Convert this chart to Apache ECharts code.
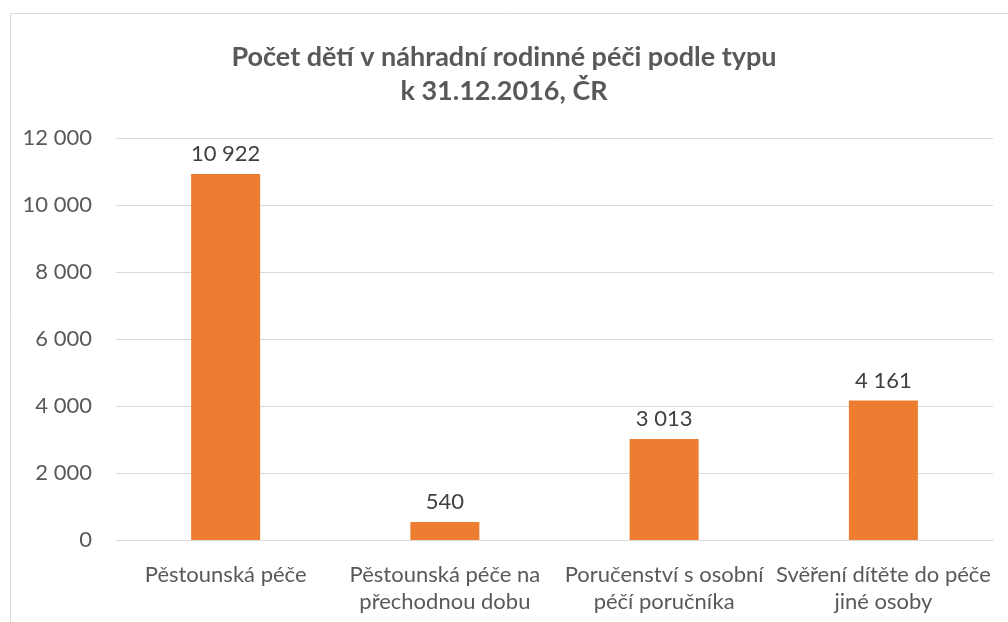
<!DOCTYPE html>
<html>
<head>
<meta charset="utf-8">
<script src="https://cdn.jsdelivr.net/npm/echarts@6/dist/echarts.min.js"></script>
<style>
  html, body { margin: 0; padding: 0; background: #ffffff; }
  #chart { width: 1008px; height: 622px; }
</style>
</head>
<body>
<div id="chart"></div>
<script>
// Počet dětí v náhradní rodinné péči podle typu, k 31.12.2016
const categories = [
  'Pěstounská péče',
  'Pěstounská péče na\npřechodnou dobu',
  'Poručenství s osobní\npéčí poručníka',
  'Svěření dítěte do péče\njiné osoby'
];
const childCounts = [10922, 540, 3013, 4161];
const titleLines = ['Počet dětí v náhradní rodinné péči podle typu', 'k 31.12.2016, ČR'];

// thousands separated by a space, e.g. 10 922
function fmt(v) {
  return String(v).replace(/\B(?=(\d{3})+(?!\d))/g, ' ');
}

const FONT = 'Lato, "Open Sans", sans-serif';
const chart = echarts.init(document.getElementById('chart'), null, { renderer: 'canvas' });

chart.setOption({
  animation: false,
  backgroundColor: '#ffffff',
  graphic: [{
    type: 'rect',
    shape: { x: 10.5, y: 13.5, width: 1100, height: 700 },
    style: { fill: 'none', stroke: '#d9d9d9', lineWidth: 1 },
    silent: true
  }],
  title: {
    text: titleLines.join('\n'),
    left: 'center',
    top: 35,
    textStyle: {
      fontFamily: FONT,
      fontSize: 27,
      fontWeight: 'bold',
      color: '#595959',
      lineHeight: 34
    }
  },
  grid: { left: 116, right: 15, top: 138, bottom: 82, containLabel: false },
  xAxis: {
    type: 'category',
    data: categories,
    axisLine: { show: true, lineStyle: { color: '#d9d9d9', width: 1 } },
    axisTick: { show: false },
    axisLabel: {
      interval: 0,
      margin: 21,
      fontFamily: FONT,
      fontSize: 22,
      color: '#595959',
      lineHeight: 27
    }
  },
  yAxis: {
    type: 'value',
    min: 0,
    max: 12000,
    interval: 2000,
    axisLine: { show: false },
    axisTick: { show: false },
    splitLine: { lineStyle: { color: '#d9d9d9', width: 1 } },
    axisLabel: {
      margin: 24,
      fontFamily: FONT,
      fontSize: 22,
      color: '#595959',
      formatter: v => fmt(v)
    }
  },
  series: [{
    type: 'bar',
    data: childCounts,
    barWidth: 69,
    itemStyle: { color: '#ed7d31' },
    label: {
      show: true,
      position: 'top',
      distance: 9,
      fontFamily: FONT,
      fontSize: 22,
      color: '#404040',
      formatter: p => fmt(p.value)
    }
  }]
});
</script>
</body>
</html>
